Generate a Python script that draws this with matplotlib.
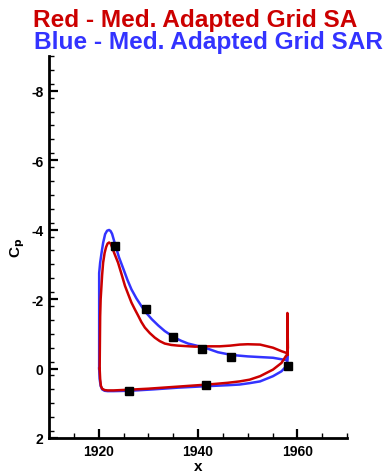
import numpy as np
import matplotlib.pyplot as plt

# Red - SA, upper surface (LE -> TE) then TE spike
x_sa_up = [1920.2, 1920.3, 1920.4, 1920.5, 1920.7, 1920.9, 1921.2, 1921.5, 1921.8, 1922.1,
           1922.4, 1922.6, 1923.2, 1923.9, 1924.6, 1925.3, 1926.0, 1926.6, 1927.3, 1928.0,
           1928.6, 1929.3, 1930.3, 1931.3, 1932.3, 1933.3, 1934.6, 1936.0, 1939.4, 1942.0,
           1944.4, 1946.5, 1948.4, 1950.0, 1952.5, 1955.1, 1956.8, 1957.8, 1958.0, 1958.0,
           1958.1, 1958.0]
cp_sa_up = [0.0, -1.5, -2.0, -2.23, -2.7, -3.05, -3.33, -3.5, -3.6, -3.63,
            -3.6, -3.53, -3.3, -3.05, -2.72, -2.38, -2.12, -1.9, -1.7, -1.51,
            -1.34, -1.18, -1.02, -0.89, -0.79, -0.72, -0.68, -0.66, -0.63, -0.64,
            -0.64, -0.66, -0.69, -0.7, -0.69, -0.6, -0.5, -0.45, -0.4, -1.6,
            -0.6, -0.4]
# Red - SA, lower surface (TE -> LE)
x_sa_lo = [1958.0, 1957.7, 1956.8, 1955.1, 1952.5, 1950.4, 1948.4, 1946.0, 1942.0, 1938.0,
           1934.0, 1930.0, 1926.0, 1923.0, 1921.8, 1921.2, 1920.7, 1920.45, 1920.3, 1920.2]
cp_sa_lo = [-0.4, -0.36, -0.16, 0.03, 0.22, 0.32, 0.37, 0.41, 0.46, 0.5,
            0.54, 0.58, 0.61, 0.63, 0.63, 0.62, 0.58, 0.5, 0.3, 0.0]

# Blue - SAR
x_sar_up = [1920.1, 1920.1, 1920.3, 1920.6, 1920.9, 1921.3, 1921.7, 1922.1, 1922.4, 1922.7,
            1923.3, 1924.1, 1925.0, 1925.8, 1926.6, 1927.6, 1928.6, 1929.6, 1930.7, 1932.0,
            1933.3, 1935.3, 1936.6, 1938.0, 1939.7, 1941.4, 1944.0, 1946.8, 1948.4, 1950.0,
            1952.5, 1955.1, 1957.1, 1957.9, 1958.0, 1958.0]
cp_sar_up = [0.0, -2.75, -3.05, -3.35, -3.62, -3.87, -3.97, -3.99, -3.96, -3.88,
             -3.58, -3.2, -2.86, -2.55, -2.28, -2.02, -1.8, -1.6, -1.42, -1.24,
             -1.08, -0.89, -0.8, -0.72, -0.66, -0.6, -0.47, -0.39, -0.37, -0.35,
             -0.33, -0.31, -0.26, -0.24, -0.6, -0.02]
x_sar_lo = [1958.0, 1957.8, 1956.8, 1955.1, 1952.5, 1950.4, 1948.4, 1946.0, 1941.4, 1936.0,
            1931.0, 1926.3, 1923.0, 1921.8, 1921.2, 1920.7, 1920.4, 1920.2, 1920.1]
cp_sar_lo = [-0.02, -0.07, 0.08, 0.22, 0.37, 0.42, 0.46, 0.48, 0.51, 0.55,
             0.6, 0.64, 0.65, 0.65, 0.64, 0.6, 0.5, 0.3, 0.0]

# experiment
x_exp = [1923.3, 1929.5, 1935.0, 1940.8, 1946.6, 1958.1, 1926.1, 1941.6]
cp_exp = [-3.53, -1.71, -0.9, -0.55, -0.33, -0.07, 0.64, 0.48]

red = '#CC0000'
blue = '#3333FF'

fig = plt.figure(figsize=(3.91, 4.77), dpi=100)
ax = fig.add_axes([49/391, 1-439/477, (347-49)/391, (439-57)/477])

ax.plot(x_sar_lo, cp_sar_lo, color=blue, lw=1.8)
ax.plot(x_sar_up, cp_sar_up, color=blue, lw=1.8)
ax.plot(x_sa_lo, cp_sa_lo, color=red, lw=1.8)
ax.plot(x_sa_up, cp_sa_up, color=red, lw=1.8)
ax.plot(x_exp, cp_exp, 's', color='black', ms=5.5, ls='none')

ax.set_xlim(1910, 1970)
ax.set_ylim(2, -9)
ax.set_xticks([1920, 1940, 1960])
ax.set_xticks(np.arange(1910, 1971, 5), minor=True)
ax.set_yticks([2, 0, -2, -4, -6, -8])
ax.set_yticklabels(['2', '0', '-2', '-4', '-6', '-8'])
ax.set_yticks(np.arange(-9, 2.01, 0.4), minor=True)

for s in ['top', 'right']:
    ax.spines[s].set_visible(False)
for s in ['left', 'bottom']:
    ax.spines[s].set_linewidth(2)

ax.tick_params(which='major', direction='in', length=6.5, width=1.6, pad=4)
ax.tick_params(which='minor', direction='in', length=3.5, width=1.0)
for lab in ax.get_xticklabels() + ax.get_yticklabels():
    lab.set_fontweight('bold')
    lab.set_fontsize(10)
    lab.set_fontfamily('Liberation Sans')

ax.set_xlabel('x', fontsize=11, fontweight='bold', family='Liberation Sans', labelpad=1)
ax.set_ylabel(r'C$_\mathbf{p}$', fontsize=11, fontweight='bold', family='Liberation Sans', labelpad=3)

fig.text(33/391, 1-27.5/477, 'Red - Med. Adapted Grid SA', color=red, fontsize=17.6,
         fontweight='bold', family='Liberation Sans', va='baseline')
fig.text(34/391, 1-49.5/477, 'Blue - Med. Adapted Grid SAR', color=blue, fontsize=17.6,
         fontweight='bold', family='Liberation Sans', va='baseline')

fig.savefig('out.png', dpi=100)
